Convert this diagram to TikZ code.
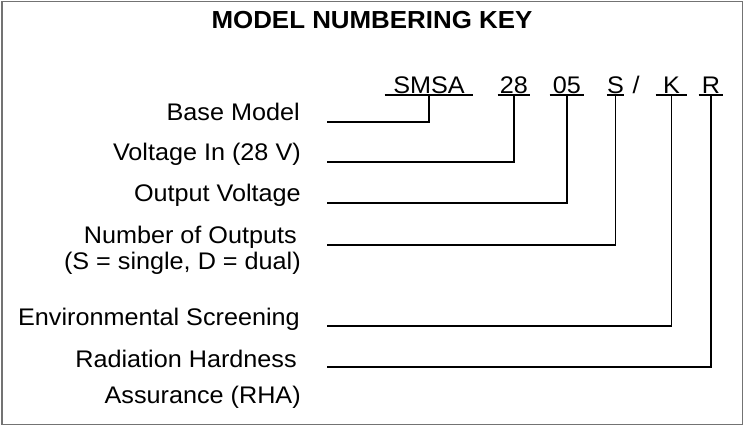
\documentclass[tikz,border=0pt]{standalone}
\usepackage{fontspec}
\setmainfont{Liberation Sans}[FakeStretch=1.05]
\usetikzlibrary{positioning}

\tikzset{
    lbl/.style={inner sep=0pt, anchor=base east, font=\fontsize{18}{21}\selectfont},
    code/.style={inner xsep=0pt, inner ysep=1.5pt, text depth=0pt, anchor=base, font=\fontsize{18}{21}\selectfont},
    uline/.style={line width=1.3pt},
    conn/.style={line width=1.3pt},
}

\begin{document}
\begin{tikzpicture}[x=0.75pt,y=-0.75pt]
    \useasboundingbox (0,0) rectangle (744,426);
    \draw[gray!90!black, line width=1.2pt] (2,1.5) rectangle (742.5,424.5);

    \node[anchor=base, font=\fontsize{18.5}{22}\selectfont\bfseries] (title) at (372,28) {MODEL NUMBERING KEY};

    \node[code, minimum width=66pt] (smsa) at (429,93) {SMSA};
    \node[code, minimum width=24pt] (v28) at (514,93) {28};
    \node[code, minimum width=25.5pt] (v05) at (567,93) {05};
    \node[code, minimum width=11.25pt] (s) at (615.5,93) {S};
    \node[code] (slash) at (636,93) {/};
    \node[code, minimum width=23.25pt] (k) at (671.5,93) {K};
    \node[code, minimum width=18pt] (r) at (711,93) {R};

    \foreach \c in {smsa,v28,v05,s,k,r}
        \draw[uline] (\c.south west) -- (\c.south east);

    \coordinate (bm-end) at (327,122);
    \coordinate (vin-end) at (327,162);
    \coordinate (vout-end) at (327,203);
    \coordinate (nout-end) at (327,245);
    \coordinate (env-end) at (327,326);
    \coordinate (rha-end) at (327,367);

    \node[lbl] (bm) at (300,120) {Base Model};
    \node[lbl] (vin) at (301,160) {Voltage In (28 V)};
    \node[lbl] (vout) at (301,201) {Output Voltage};
    \node[lbl] (nout) at (297,243) {Number of Outputs};
    \node[lbl] (nout2) at (301,269) {(S = single, D = dual)};
    \node[lbl] (env) at (300,325) {Environmental Screening};
    \node[lbl] (rha) at (297,367) {Radiation Hardness};
    \node[lbl] (rha2) at (301,403) {Assurance (RHA)};

    \draw[conn] (smsa.south) |- (bm-end);
    \draw[conn] (v28.south) |- (vin-end);
    \draw[conn] (v05.south) |- (vout-end);
    \draw[conn] (s.south) |- (nout-end);
    \draw[conn] (k.south) |- (env-end);
    \draw[conn] (r.south) |- (rha-end);
\end{tikzpicture}
\end{document}
